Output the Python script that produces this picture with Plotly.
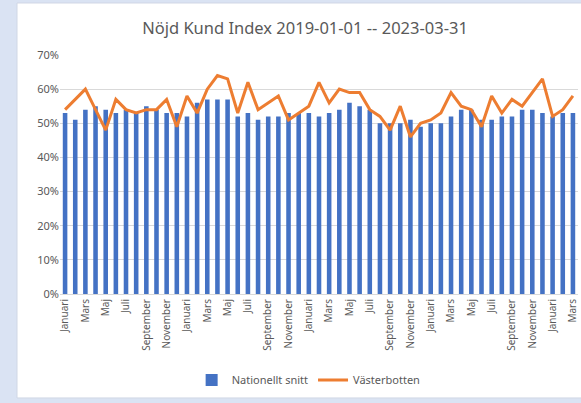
import plotly.graph_objects as go

months = ["Januari", "Februari", "Mars", "April", "Maj", "Juni", "Juli", "Augusti",
          "September", "Oktober", "November", "December"]
n_months = 51  # 2019-01 .. 2023-03
month_labels = [months[i % 12] for i in range(n_months)]

nationellt = [53, 51, 54, 55, 54, 53, 54, 53, 55, 54, 53, 53,
              52, 56, 57, 57, 57, 52, 53, 51, 52, 52, 53, 53,
              53, 52, 53, 54, 56, 55, 54, 50, 50, 50, 51, 49,
              50, 50, 52, 54, 54, 51, 51, 52, 52, 54, 54, 53,
              52, 53, 53]
vasterbotten = [54, 57, 60, 54, 48, 57, 54, 53, 54, 54, 57, 49,
                58, 53, 60, 64, 63, 53, 62, 54, 56, 58, 51, 53,
                55, 62, 56, 60, 59, 59, 54, 52, 48, 55, 46, 50,
                51, 53, 59, 55, 54, 49, 58, 53, 57, 55, 59, 63,
                52, 54, 58]

x = list(range(n_months))
tickvals = x[::2]
ticktext = month_labels[::2]

fig = go.Figure()
fig.add_trace(go.Bar(x=x, y=[v / 100 for v in nationellt], name="Nationellt snitt",
                     marker=dict(color="#4472C4", line=dict(width=0))))
fig.add_trace(go.Scatter(x=x, y=[v / 100 for v in vasterbotten], name="Västerbotten",
                         mode="lines", line=dict(color="#ED7D31", width=3)))

fig.update_layout(
    width=581, height=403,
    margin=dict(l=60, r=3, t=55, b=109),
    paper_bgcolor="#DAE3F3",
    plot_bgcolor="white",
    bargap=0.55,
    font=dict(family="Noto Sans, sans-serif", color="#595959", size=11),
    title=dict(text="Nöjd Kund Index 2019-01-01 -- 2023-03-31", x=0.473, xref="paper",
               xanchor="center", y=0.93, yanchor="middle",
               font=dict(size=16.5, color="#595959")),
    showlegend=True,
    legend=dict(orientation="h", x=0.48, xanchor="center", y=-0.36, yanchor="middle",
                font=dict(size=11, color="#595959"), bgcolor="rgba(0,0,0,0)"),
    shapes=[dict(type="rect", xref="paper", yref="paper", x0=-0.083, x1=1.01,
                 y0=-0.435, y1=1.2176, fillcolor="white",
                 line=dict(color="#D0D7E5", width=1), layer="below")],
)
fig.update_xaxes(range=[-0.5, n_months - 0.5], tickmode="array", tickvals=tickvals,
                 ticktext=ticktext, tickangle=-90, showgrid=False, zeroline=False,
                 showline=True, linecolor="#D9D9D9", ticks="",
                 tickfont=dict(size=10, color="#595959"))
fig.update_yaxes(range=[0, 0.7], dtick=0.1, tickformat=".0%", showgrid=True,
                 gridcolor="#D9D9D9", zeroline=False, ticks="", ticklen=0,
                 tickfont=dict(size=11, color="#595959"))

fig.write_html("out.html", config={"displayModeBar": False},
               post_script="document.body.style.margin='0';document.body.style.overflow='hidden';")
